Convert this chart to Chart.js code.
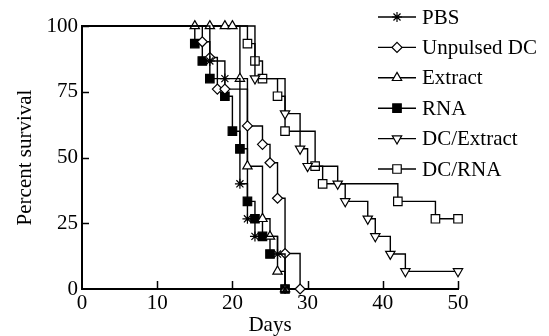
<!DOCTYPE html>
<html><head><meta charset="utf-8">
<script src="https://cdn.jsdelivr.net/npm/chart.js@4/dist/chart.umd.min.js"></script>
<style>html,body{margin:0;padding:0;background:#fff;}</style>
</head><body>
<canvas id="c" width="549" height="336"></canvas>
<script>
// ---- data (days, percent survival) ----
const seriesNames = ['PBS', 'Unpulsed DC', 'Extract', 'RNA', 'DC/Extract', 'DC/RNA'];
const pbsDays = [0, 17, 19, 21, 22, 23, 26, 27];
const pbsPct = [100, 86.7, 80, 40, 26.7, 20, 13.3, 0];
const unpulsedDays = [0, 16, 17, 18, 19, 22, 24, 25, 26, 27, 29];
const unpulsedPct = [100, 94, 88, 76, 76, 62, 55, 48, 34.5, 13.5, 0];
const extractDays = [0, 15, 17, 19, 20, 21, 22, 24, 25, 26, 27];
const extractPct = [100, 100, 100, 100, 100, 80, 46.7, 26.7, 20, 6.7, 0];
const rnaDays = [0, 15, 16, 17, 19, 20, 21, 22, 23, 24, 25, 27];
const rnaPct = [100, 93.3, 86.7, 80, 73.3, 60, 53.3, 33.3, 26.7, 20, 13.3, 0];
const dcExtractDays = [0, 23, 27, 29, 30, 34, 35, 38, 39, 41, 43, 50];
const dcExtractPct = [100, 80, 66.7, 53.3, 46.7, 40, 33.3, 26.7, 20, 13.3, 6.7, 6.7];
const dcRnaDays = [0, 22, 23, 24, 26, 27, 31, 32, 42, 47, 50];
const dcRnaPct = [100, 93.3, 86.7, 80, 73.3, 60, 46.7, 40, 33.3, 26.7, 26.7];
const xTicks = [0, 10, 20, 30, 40, 50];
const yTicks = [0, 25, 50, 75, 100];

const FONT = '"Liberation Serif", "Times New Roman", serif';
Chart.defaults.font.family = FONT;
Chart.defaults.color = '#000';

const styles = [
  {pointStyle: 'star', bg: '#000', r: 5, rot: 0},
  {pointStyle: 'rectRot', bg: '#fff', r: 5, rot: 0},
  {pointStyle: 'triangle', bg: '#fff', r: 5.4, rot: 0},
  {pointStyle: 'rect', bg: '#000', r: 6, rot: 0},
  {pointStyle: 'triangle', bg: '#fff', r: 5.4, rot: 180},
  {pointStyle: 'rect', bg: '#fff', r: 6, rot: 0}
];
const allDays = [pbsDays, unpulsedDays, extractDays, rnaDays, dcExtractDays, dcRnaDays];
const allPct = [pbsPct, unpulsedPct, extractPct, rnaPct, dcExtractPct, dcRnaPct];

const datasets = seriesNames.map((name, i) => {
  const s = styles[i];
  return {
    label: name,
    data: allDays[i].map((d, j) => ({x: d, y: allPct[i][j]})),
    stepped: 'before',
    borderColor: '#000',
    borderWidth: 1.4,
    fill: false,
    clip: false,
    pointStyle: s.pointStyle,
    pointRotation: s.rot,
    pointBackgroundColor: s.bg,
    pointBorderColor: '#000',
    pointBorderWidth: 1.2,
    pointRadius: ctx => ctx.dataIndex === 0 ? 0 : s.r,
    pointHoverRadius: ctx => ctx.dataIndex === 0 ? 0 : s.r
  };
});

const innerTicks = {
  id: 'innerTicks',
  afterDatasetsDraw(chart) {
    const {ctx, scales: {x, y}, chartArea: a} = chart;
    ctx.save();
    ctx.strokeStyle = '#000';
    ctx.lineWidth = 1.5;
    xTicks.forEach(v => {
      if (v === 0) return;
      const px = Math.round(x.getPixelForValue(v)) + 0.5;
      ctx.beginPath(); ctx.moveTo(px, a.bottom); ctx.lineTo(px, a.bottom - 8); ctx.stroke();
    });
    yTicks.forEach(v => {
      if (v === 0) return;
      const py = Math.round(y.getPixelForValue(v)) + 0.5;
      ctx.beginPath(); ctx.moveTo(a.left, py); ctx.lineTo(a.left + 7, py); ctx.stroke();
    });
    ctx.restore();
  }
};

const customLegend = {
  id: 'customLegend',
  afterDraw(chart) {
    const ctx = chart.ctx;
    ctx.save();
    chart.data.datasets.forEach((ds, i) => {
      const s = styles[i];
      const yy = 17 + i * 30.4;
      ctx.strokeStyle = '#000';
      ctx.lineWidth = 1.4;
      ctx.beginPath(); ctx.moveTo(378, yy); ctx.lineTo(416, yy); ctx.stroke();
      ctx.fillStyle = s.bg;
      ctx.strokeStyle = '#000';
      ctx.lineWidth = 1.2;
      Chart.helpers.drawPoint(ctx, {pointStyle: s.pointStyle, rotation: s.rot, radius: s.r, borderWidth: 1.2}, 397, yy);
      ctx.fillStyle = '#000';
      ctx.font = '21px ' + FONT;
      ctx.textBaseline = 'middle';
      ctx.textAlign = 'left';
      ctx.fillText(ds.label, 422, yy + 1);
    });
    ctx.restore();
  }
};

new Chart(document.getElementById('c'), {
  type: 'line',
  data: {datasets},
  options: {
    responsive: false,
    animation: false,
    devicePixelRatio: 1,
    layout: {padding: {left: 0, right: 91, top: 26, bottom: 0}},
    plugins: {legend: {display: false}, tooltip: {enabled: false}},
    scales: {
      x: {
        type: 'linear', min: 0, max: 50,
        afterFit(scale) { scale.height = 47; },
        afterBuildTicks(scale) { scale.ticks = xTicks.map(v => ({value: v})); },
        ticks: {font: {size: 21, lineHeight: 1}, color: '#000', padding: 4, maxRotation: 0},
        grid: {display: false, drawTicks: false},
        border: {display: true, color: '#000', width: 2},
        title: {display: true, text: 'Days', color: '#000', font: {size: 21, lineHeight: 1}, padding: 0}
      },
      y: {
        type: 'linear', min: 0, max: 100,
        afterFit(scale) { scale.width = 82; },
        afterBuildTicks(scale) { scale.ticks = yTicks.map(v => ({value: v})); },
        ticks: {font: {size: 21, lineHeight: 1}, color: '#000', padding: 4},
        grid: {display: false, drawTicks: false},
        border: {display: true, color: '#000', width: 2},
        title: {display: true, text: 'Percent survival', color: '#000', font: {size: 21, lineHeight: 1.2}, padding: {top: 13, bottom: 0}}
      }
    }
  },
  plugins: [innerTicks, customLegend]
});
</script>
</body></html>
